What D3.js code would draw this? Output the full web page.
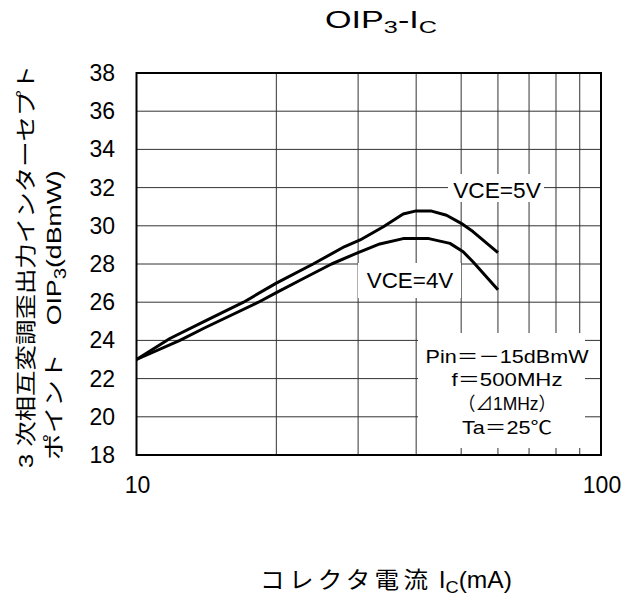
<!DOCTYPE html>
<html><head><meta charset="utf-8">
<script src="https://cdn.jsdelivr.net/npm/d3@7"></script>
<style>html,body{margin:0;padding:0;background:#fff}svg{display:block}</style>
</head><body>
<svg id="chart" width="639" height="599"></svg>
<script>
// ---- data ----
const yTicks = [18, 20, 22, 24, 26, 28, 30, 32, 34, 36, 38];
const xTickLabels = [10, 100];
const xGrid = [20, 30, 40, 50, 60, 70, 80, 90];
const yGrid = [20, 22, 24, 26, 28, 30, 32, 34, 36];
const vce5I   = [10, 11.8, 14, 17, 20, 24, 28, 30.3, 34, 37.5, 40, 43, 46.5, 50, 53, 60];
const vce5OIP = [23.0, 24.1, 25.0, 26.0, 27.0, 28.0, 28.9, 29.26, 29.95, 30.62, 30.78, 30.78, 30.55, 30.13, 29.7, 28.6];
const vce4I   = [10, 12.4, 14, 18.3, 20, 22.5, 26.3, 30, 33.4, 37.5, 42.6, 47.3, 50.5, 53, 60];
const vce4OIP = [23.0, 24.0, 24.65, 26.0, 26.5, 27.15, 28.0, 28.6, 29.05, 29.33, 29.33, 29.08, 28.64, 28.12, 26.65];
const seriesLabels = ["VCE=5V", "VCE=4V"];
const conditions = ["Pin＝－15dBmW", "f＝500MHz", "（⊿1MHz）", "Ta＝25℃"];

// ---- layout ----
const L = 136.5, R = 601, T = 73, B = 455;
const svg = d3.select("#chart");
const x = d3.scaleLog().domain([10, 100]).range([L, R]);
const y = d3.scaleLinear().domain([18, 38]).range([B, T]);
const LAT = "'Liberation Sans', Arial, sans-serif";
const MIX = "'Liberation Sans', 'Noto Sans CJK JP', sans-serif";

function label(cx, cy, anchor, size, family, rot, target, build) {
  const t = svg.append("text").attr("text-anchor", anchor)
    .attr("font-size", size).attr("font-family", family).attr("fill", "#000");
  build(t);
  const w = t.node().getBBox().width;
  const s = target ? target / w : 1;
  t.attr("transform", `translate(${cx},${cy})${rot ? ` rotate(${rot})` : ""} scale(${s},1)`);
  return t;
}

// gridlines
svg.append("g").selectAll("line").data(xGrid).join("line")
  .attr("x1", d => x(d)).attr("x2", d => x(d)).attr("y1", T).attr("y2", B)
  .attr("stroke", "#333").attr("stroke-width", 1);
svg.append("g").selectAll("line").data(yGrid).join("line")
  .attr("x1", L).attr("x2", R).attr("y1", d => y(d)).attr("y2", d => y(d))
  .attr("stroke", "#333").attr("stroke-width", 1);

// annotation background boxes
svg.append("rect").attr("x", 448).attr("y", 174).attr("width", 96).attr("height", 28).attr("fill", "#fff");
svg.append("rect").attr("x", 358).attr("y", 263).attr("width", 103).attr("height", 35).attr("fill", "#fff");
svg.append("rect").attr("x", 418).attr("y", 333).attr("width", 167).attr("height", 115).attr("fill", "#fff");

// curves
const line = d3.line().x(d => x(d[0])).y(d => y(d[1]));
[[vce5I, vce5OIP], [vce4I, vce4OIP]].forEach(([xs, ys]) => {
  svg.append("path").datum(xs.map((v, i) => [v, ys[i]]))
    .attr("d", line).attr("fill", "none").attr("stroke", "#000")
    .attr("stroke-width", 3).attr("stroke-linejoin", "round");
});

// border
svg.append("rect").attr("x", L).attr("y", T).attr("width", R - L).attr("height", B - T)
  .attr("fill", "none").attr("stroke", "#000").attr("stroke-width", 2);

// y tick labels
svg.append("g").selectAll("text").data(yTicks).join("text")
  .attr("x", 115).attr("y", d => y(d) + 8).attr("text-anchor", "end")
  .attr("font-size", 23).attr("font-family", LAT).text(d => d);
// x tick labels
svg.append("g").selectAll("text").data(xTickLabels).join("text")
  .attr("x", d => x(d) + 1).attr("y", 493).attr("text-anchor", "middle")
  .attr("font-size", 23).attr("font-family", LAT).text(d => d);

// title
label(381, 28, "middle", 23, LAT, 0, 112, t => {
  t.append("tspan").text("OIP");
  t.append("tspan").attr("font-size", 17).attr("dy", 5).text("3");
  t.append("tspan").attr("dy", -5).text("-I");
  t.append("tspan").attr("font-size", 17).attr("dy", 5).text("C");
});

// x title
label(386, 588, "middle", 23, MIX, 0, 252, t => {
  t.append("tspan").attr("letter-spacing", 4).text("コレクタ電流");
  t.append("tspan").attr("dx", 6).text("I");
  t.append("tspan").attr("font-size", 17).attr("dy", 5).text("C");
  t.append("tspan").attr("dy", -5).text("(mA)");
});

// y title (two lines, rotated)
label(33, 468, "start", 21, MIX, -90, 403, t => {
  t.append("tspan").text("3 次相互変調歪出力インターセプト");
});
label(61, 460, "start", 21, MIX, -90, 290, t => {
  t.append("tspan").text("ポイント");
  t.append("tspan").attr("dx", 22).text("OIP");
  t.append("tspan").attr("font-size", 16).attr("dy", 5).text("3");
  t.append("tspan").attr("dy", -5).text("(dBmW)");
});

// series labels
label(497, 198, "middle", 22, LAT, 0, 88, t => t.text(seriesLabels[0]));
label(410, 288, "middle", 22, LAT, 0, 87, t => t.text(seriesLabels[1]));

// conditions block (one text element, one tspan per line)
const condY = [363, 386, 410, 434];
const condW = [163, 111, 98, 90];
svg.append("text").attr("text-anchor", "middle").attr("font-size", 18.5)
  .attr("font-family", MIX).attr("fill", "#000")
  .selectAll("tspan").data(conditions).join("tspan")
  .attr("x", 507).attr("y", (d, i) => condY[i])
  .attr("textLength", (d, i) => condW[i]).attr("lengthAdjust", "spacingAndGlyphs")
  .text(d => d);
</script>
</body></html>
